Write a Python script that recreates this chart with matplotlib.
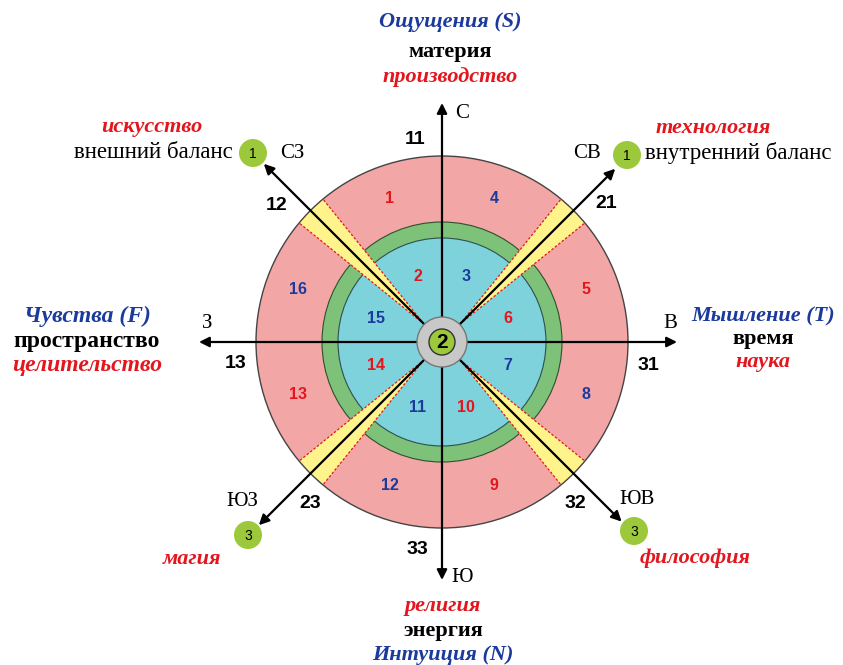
import numpy as np
import matplotlib
matplotlib.use('Agg')
import matplotlib.pyplot as plt
from matplotlib.patches import Circle, Polygon

# sectors: angles of label centres (degrees, counter-clockwise from east)
sector_angles = [110, 70, 20, -20, -70, -110, -160, 160]
outer_labels = ['1', '4', '5', '8', '9', '12', '13', '16']
inner_labels = ['2', '3', '6', '7', '10', '11', '14', '15']
label_colors = ['red', 'blue', 'red', 'blue', 'red', 'blue', 'red', 'blue']

# compass directions
dir_angles = [90, 45, 0, -45, -90, -135, 180, 135]
dir_lengths = [239, 245, 235, 254, 238, 259, 243, 252]
dir_names = ['С', 'СВ', 'В', 'ЮВ', 'Ю', 'ЮЗ', 'З', 'СЗ']
dir_numbers = ['11', '21', '31', '32', '33', '23', '13', '12']

# diagonal markers
diag_values = ['1', '1', '3', '3']

# side texts: (blue, black, red)
side_texts = {
    'N': ('Ощущения (S)', 'материя', 'производство'),
    'E': ('Мышление (T)', 'время', 'наука'),
    'S': ('Интуиция (N)', 'энергия', 'религия'),
    'W': ('Чувства (F)', 'пространство', 'целительство'),
}
corner_red = ['технология', 'философия', 'магия', 'искусство']
corner_black = ['внутренний баланс', 'внешний баланс']

RED = '#E3161E'
BLUE = '#1B3A9C'
COL = {'red': RED, 'blue': BLUE}
PINK = '#F2A7A6'
GREEN = '#7DC278'
CYAN = '#7ED2DC'
YELLOW = '#FFF38C'
GRAY = '#C8C8C8'
LIME = '#9CC83C'

cx, cy = 442, 342
R_OUT, R_GREEN, R_BLUE, R_GRAY, R_CORE = 186, 120, 104, 25, 13


def pt(a, r):
    t = np.radians(a)
    return cx + r * np.cos(t), cy - r * np.sin(t)


fig = plt.figure(figsize=(8.43, 6.65), dpi=100)
ax = fig.add_axes([0, 0, 1, 1])
ax.set_xlim(0, 843)
ax.set_ylim(665, 0)
ax.set_aspect('equal')
ax.axis('off')

ax.add_patch(Circle((cx, cy), R_OUT, fc=PINK, ec='none', zorder=1))
ax.add_patch(Circle((cx, cy), R_GREEN, fc=GREEN, ec='#2f4f2f', lw=0.8, zorder=2))
ax.add_patch(Circle((cx, cy), R_BLUE, fc=CYAN, ec='#2f4f4f', lw=0.8, zorder=3))

# yellow wedges on the diagonals
for a in [45, 135, -135, -45]:
    apex = pt(a, R_GRAY)
    arc = [pt(a + d, R_OUT) for d in np.linspace(-5.2, 5.2, 12)]
    ax.add_patch(Polygon([apex] + arc, closed=True, fc=YELLOW, ec='none', zorder=4))
    for d in (-5.2, 5.2):
        p = pt(a + d, R_OUT)
        ax.plot([apex[0], p[0]], [apex[1], p[1]], color=RED, lw=0.9,
                ls=(0, (2, 1.5)), zorder=5)

ax.add_patch(Circle((cx, cy), R_OUT, fc='none', ec='#444444', lw=1.0, zorder=6))

# arrows
for a, L in zip(dir_angles, dir_lengths):
    tip = pt(a, L)
    ax.annotate('', xy=tip, xytext=(cx, cy),
                arrowprops=dict(arrowstyle='-|>', color='black', lw=1.6,
                                mutation_scale=15, shrinkA=0, shrinkB=0),
                zorder=7)

ax.add_patch(Circle((cx, cy), R_GRAY, fc=GRAY, ec='#777777', lw=1.0, zorder=8))
ax.add_patch(Circle((cx, cy), R_CORE, fc=LIME, ec='#333333', lw=1.0, zorder=9))
ax.text(cx, cy + 1, '2', ha='center', va='center', fontsize=15, fontweight='bold',
        family='Liberation Sans', zorder=10)

# sector numbers
for a, lo, li, c in zip(sector_angles, outer_labels, inner_labels, label_colors):
    x, y = pt(a, 153)
    ax.text(x, y, lo, ha='center', va='center', fontsize=11.5, fontweight='bold',
            color=COL[c], family='Liberation Sans', zorder=10)
    x, y = pt(a, 70)
    ax.text(x, y, li, ha='center', va='center', fontsize=11.5, fontweight='bold',
            color=COL[c], family='Liberation Sans', zorder=10)

# compass names and axis numbers
name_pos = [(462, 113), (587, 153), (670, 323), (637, 500),
            (462, 578), (242, 501), (207, 323), (292, 153)]
num_pos = [(415, 140), (606, 203), (648, 365), (575, 503),
           (417, 550), (310, 503), (236, 364), (277, 206)]
for nm, p in zip(dir_names, name_pos):
    ax.text(p[0], p[1], nm, ha='center', va='center', fontsize=15,
            family='Liberation Serif', zorder=10)
for nb, p in zip(dir_numbers, num_pos):
    ax.text(p[0], p[1], nb, ha='center', va='center', fontsize=14, fontweight='bold',
            family='Liberation Sans', zorder=10)

# green markers at the diagonal arrow tips
mark_pos = [(627, 155), (253, 153), (248, 535), (634, 531)]
for v, p in zip(diag_values, mark_pos):
    ax.add_patch(Circle(p, 14, fc=LIME, ec='none', zorder=10))
    ax.text(p[0], p[1] + 1, v, ha='center', va='center', fontsize=10,
            family='Liberation Sans', zorder=11)

# side text blocks
side_pos = {'N': (450, [22, 52, 77]), 'E': (763, [316, 339, 362]),
            'S': (443, [606, 631, 655]), 'W': (87, [316, 342, 366])}
for k, (tb, tk, tr) in side_texts.items():
    x, ys = side_pos[k]
    if k == 'S':
        order = [(tr, RED, 'italic'), (tk, 'black', 'normal'), (tb, BLUE, 'italic')]
    else:
        order = [(tb, BLUE, 'italic'), (tk, 'black', 'normal'), (tr, RED, 'italic')]
    for (s, c, st), y in zip(order, ys):
        fs = 17 if k == 'W' else 16
        ax.text(x, y, s, ha='center', va='center', fontsize=fs, fontweight='bold',
                style=st, color=c, family='Liberation Serif', zorder=10)

# corner texts
corner_red_pos = [(713, 128), (695, 558), (192, 559), (152, 127)]
for s, p in zip(corner_red, corner_red_pos):
    ax.text(p[0], p[1], s, ha='center', va='center', fontsize=16, fontweight='bold',
            style='italic', color=RED, family='Liberation Serif', zorder=10)
ax.text(645, 153, corner_black[0], ha='left', va='center', fontsize=16.5,
        family='Liberation Serif', zorder=10)
ax.text(233, 153, corner_black[1], ha='right', va='center', fontsize=16.5,
        family='Liberation Serif', zorder=10)

fig.savefig('out.png', dpi=100, facecolor='white')
